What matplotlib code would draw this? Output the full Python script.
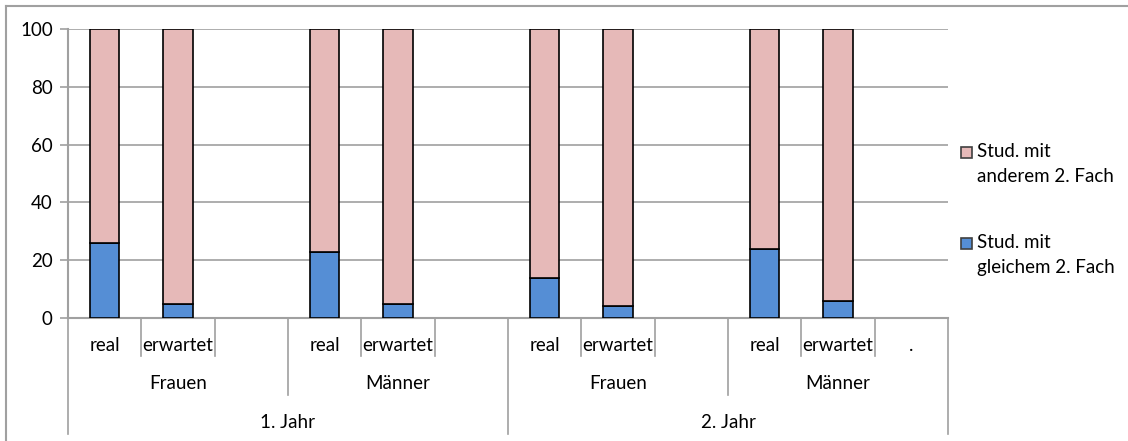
import numpy as np
import matplotlib.pyplot as plt
from matplotlib.lines import Line2D
from matplotlib.patches import Rectangle
from matplotlib.transforms import blended_transform_factory

plt.rcParams['font.family'] = ['Lato', 'DejaVu Sans']

# 12 category slots: real / erwartet / empty, per Geschlecht and Jahr
level1 = ['real', 'erwartet', '', 'real', 'erwartet', '',
          'real', 'erwartet', '', 'real', 'erwartet', '.']
level2 = ['Frauen', 'Männer', 'Frauen', 'Männer']
level3 = ['1. Jahr', '2. Jahr']

gleich = [26, 5, np.nan, 23, 5, np.nan, 14, 4, np.nan, 24, 6, np.nan]
anders = [74, 95, np.nan, 77, 95, np.nan, 86, 96, np.nan, 76, 94, np.nan]
series_names = ['Stud. mit\nanderem 2. Fach', 'Stud. mit\ngleichem 2. Fach']

blue = '#558ed5'
pink = '#e6b9b8'
grey = '#a0a0a0'
fs = 13.5

fig = plt.figure(figsize=(11.28, 4.41), dpi=100)
ax = fig.add_axes([68 / 1128, 1 - 318 / 441, 880 / 1128, 289 / 441])

x = np.arange(len(level1))
ax.bar(x, gleich, width=0.4, color=blue, edgecolor='black', linewidth=1.2, zorder=3)
ax.bar(x, anders, width=0.4, bottom=gleich, color=pink, edgecolor='black',
       linewidth=1.2, zorder=3)

ax.set_xlim(-0.5, len(level1) - 0.5)
ax.set_ylim(0, 100)
ax.set_yticks(range(0, 101, 20))
ax.yaxis.grid(True, color=grey, linewidth=1.2)
ax.set_axisbelow(True)
for s in ['top', 'right']:
    ax.spines[s].set_visible(False)
for s in ['left', 'bottom']:
    ax.spines[s].set_color(grey)
    ax.spines[s].set_linewidth(1.5)
ax.tick_params(axis='y', length=6, color=grey, width=1.2, labelsize=fs, pad=5)
ax.set_xticks([])

# multi-level category axis
tr = blended_transform_factory(ax.transData, ax.transAxes)
lv_bottom = [-0.1315, -0.266, -0.401]
for b in np.arange(-0.5, len(level1), 1):
    i = int(b + 0.5)
    if i % 6 == 0:
        yb = lv_bottom[2]
    elif i % 3 == 0:
        yb = lv_bottom[1]
    else:
        yb = lv_bottom[0]
    ax.add_line(Line2D([b, b], [0, yb], transform=tr, color=grey,
                       linewidth=1.2, clip_on=False))
for i, lab in enumerate(level1):
    ax.text(i, -0.095, lab, transform=tr, ha='center', va='center', fontsize=fs)
for i, lab in enumerate(level2):
    ax.text(3 * i + 1, -0.225, lab, transform=tr, ha='center', va='center', fontsize=fs)
for i, lab in enumerate(level3):
    ax.text(6 * i + 2.5, -0.36, lab, transform=tr, ha='center', va='center', fontsize=fs)

# legend, marker aligned with first text line (Excel style)
for name, col, ytop in zip(series_names, [pink, blue], [143, 234]):
    fig.patches.append(Rectangle((961 / 1128, 1 - (ytop + 15) / 441), 11 / 1128, 11 / 441,
                                 transform=fig.transFigure, facecolor=col,
                                 edgecolor='#404040', linewidth=1.2))
    fig.text(977 / 1128, 1 - ytop / 441, name, ha='left', va='top',
             fontsize=fs, linespacing=1.55)

# outer chart border (left and top)
fig.add_artist(Line2D([6 / 1128, 6 / 1128], [0, 1 - 6 / 441], color=grey,
                      linewidth=1.5, transform=fig.transFigure))
fig.add_artist(Line2D([6 / 1128, 1], [1 - 6 / 441, 1 - 6 / 441], color=grey,
                      linewidth=1.5, transform=fig.transFigure))

plt.savefig('out.png', dpi=100)
